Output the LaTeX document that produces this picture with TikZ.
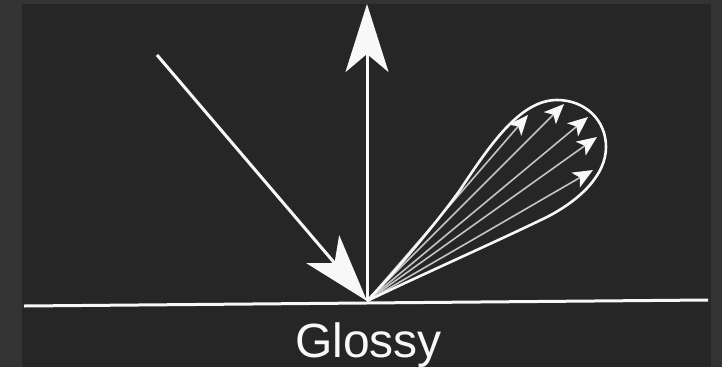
\documentclass[tikz,border=0pt]{standalone}
\usepackage{fontspec}
\setmainfont{Liberation Sans}
\usetikzlibrary{arrows.meta}
\definecolor{outerbg}{HTML}{333333}
\definecolor{panelbg}{HTML}{262626}
\definecolor{ink}{HTML}{F8F8F8}
\definecolor{ray}{HTML}{C4C4C4}
\tikzset{
  bigarrow/.style={draw=ink, line width=3pt, -{Stealth[length=68pt,width=43pt,inset=18pt]}},
  groundline/.style={draw=ink, line width=3pt},
  lobeline/.style={draw=ink, line width=2.6pt, line join=round},
  smallray/.style={draw=ray, line width=1.6pt, -{Stealth[length=20pt,width=17pt,inset=5pt,color=ink,fill=ink]}},
  caption/.style={text=ink, inner sep=0pt, font=\fontsize{48}{56}\selectfont}
}
\begin{document}
\begin{tikzpicture}[x=1pt,y=-1pt]
\useasboundingbox (0,0) rectangle (722,367);
\fill[outerbg] (0,0) rectangle (722,367);
\fill[panelbg] (22,4) rectangle (711,367);
% named points
\coordinate (O) at (367,301);
\coordinate (gl) at (24,306);
\coordinate (gr) at (708,300);
\coordinate (src) at (157,55);
\coordinate (up) at (367,4);
\coordinate (t1) at (528,115);
\coordinate (t2) at (564,104);
\coordinate (t3) at (588,117);
\coordinate (t4) at (597,137);
\coordinate (t5) at (593,170);
% ground
\draw[groundline] (gl) -- (gr);
% lobe rays
\draw[smallray] (O) -- (t1);
\draw[smallray] (O) -- (t2);
\draw[smallray] (O) -- (t3);
\draw[smallray] (O) -- (t4);
\draw[smallray] (O) -- (t5);
% lobe outline
\draw[lobeline] (O) .. controls (395,272) and (435,225) .. (460,190)
  .. controls (490,145) and (520,100) .. (557,100)
  .. controls (585,100) and (606,120) .. (606,147)
  .. controls (606,175) and (580,200) .. (547,217)
  .. controls (500,240) and (410,280) .. (O);
% normal and incoming
\draw[bigarrow] (O) -- (up);
\draw[bigarrow] (src) -- (O);
% caption
\node[caption, anchor=base] (lbl) at (368.5,357) {Glossy};
\end{tikzpicture}
\end{document}
